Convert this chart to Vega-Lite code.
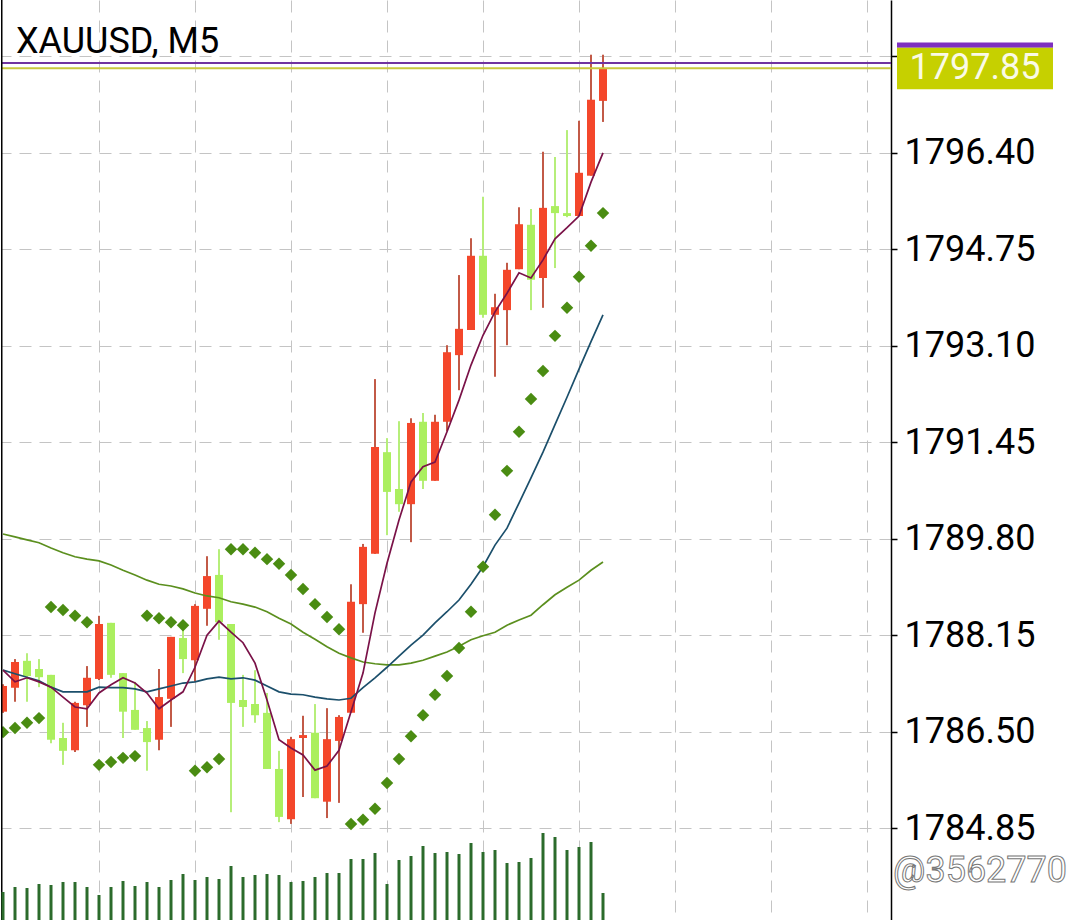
{
  "$schema": "https://vega.github.io/schema/vega-lite/v6.json",
  "width": 890,
  "height": 920,
  "padding": 0,
  "background": "#ffffff",
  "config": {"view": {"stroke": null}, "font": "Roboto"},
  "datasets": {
    "bars": [
      {"i": 0, "o": 1786.84, "h": 1787.31, "l": 1786.82, "c": 1787.28, "m1": 1787.55, "m2": 1787.55, "m3": 1789.88, "sar": 1786.49, "vol": 280},
      {"i": 1, "o": 1787.25, "h": 1787.74, "l": 1787.01, "c": 1787.69, "m1": 1787.35, "m2": 1787.49, "m3": 1789.83, "sar": 1786.56, "vol": 330},
      {"i": 2, "o": 1787.71, "h": 1787.84, "l": 1787.01, "c": 1787.45, "m1": 1787.42, "m2": 1787.43, "m3": 1789.78, "sar": 1786.65, "vol": 320},
      {"i": 3, "o": 1787.57, "h": 1787.74, "l": 1787.26, "c": 1787.43, "m1": 1787.35, "m2": 1787.37, "m3": 1789.73, "sar": 1786.73, "vol": 360},
      {"i": 4, "o": 1787.47, "h": 1787.47, "l": 1786.30, "c": 1786.36, "m1": 1787.26, "m2": 1787.26, "m3": 1789.64, "sar": 1788.63, "vol": 350},
      {"i": 5, "o": 1786.39, "h": 1786.65, "l": 1785.93, "c": 1786.17, "m1": 1787.09, "m2": 1787.18, "m3": 1789.56, "sar": 1788.58, "vol": 380},
      {"i": 6, "o": 1786.18, "h": 1787.01, "l": 1786.15, "c": 1786.99, "m1": 1786.92, "m2": 1787.18, "m3": 1789.49, "sar": 1788.48, "vol": 380},
      {"i": 7, "o": 1786.95, "h": 1787.62, "l": 1786.58, "c": 1787.42, "m1": 1786.89, "m2": 1787.18, "m3": 1789.45, "sar": 1788.37, "vol": 330},
      {"i": 8, "o": 1787.40, "h": 1788.48, "l": 1787.38, "c": 1788.34, "m1": 1787.16, "m2": 1787.26, "m3": 1789.42, "sar": 1785.93, "vol": 250},
      {"i": 9, "o": 1788.36, "h": 1788.36, "l": 1787.42, "c": 1787.47, "m1": 1787.30, "m2": 1787.25, "m3": 1789.35, "sar": 1785.98, "vol": 330},
      {"i": 10, "o": 1787.50, "h": 1787.50, "l": 1786.39, "c": 1786.84, "m1": 1787.42, "m2": 1787.25, "m3": 1789.26, "sar": 1786.05, "vol": 390},
      {"i": 11, "o": 1786.87, "h": 1787.35, "l": 1786.53, "c": 1786.53, "m1": 1787.33, "m2": 1787.23, "m3": 1789.18, "sar": 1786.08, "vol": 340},
      {"i": 12, "o": 1786.56, "h": 1786.68, "l": 1785.83, "c": 1786.32, "m1": 1787.16, "m2": 1787.18, "m3": 1789.09, "sar": 1788.48, "vol": 380},
      {"i": 13, "o": 1786.36, "h": 1787.57, "l": 1786.18, "c": 1787.09, "m1": 1786.89, "m2": 1787.23, "m3": 1789.02, "sar": 1788.44, "vol": 330},
      {"i": 14, "o": 1787.06, "h": 1788.12, "l": 1786.58, "c": 1788.12, "m1": 1787.04, "m2": 1787.28, "m3": 1788.99, "sar": 1788.37, "vol": 400},
      {"i": 15, "o": 1788.10, "h": 1788.24, "l": 1787.50, "c": 1787.74, "m1": 1787.18, "m2": 1787.33, "m3": 1788.94, "sar": 1788.32, "vol": 460},
      {"i": 16, "o": 1787.72, "h": 1788.68, "l": 1787.35, "c": 1788.65, "m1": 1787.60, "m2": 1787.35, "m3": 1788.87, "sar": 1785.83, "vol": 400},
      {"i": 17, "o": 1788.60, "h": 1789.50, "l": 1788.31, "c": 1789.16, "m1": 1788.15, "m2": 1787.40, "m3": 1788.82, "sar": 1785.89, "vol": 430},
      {"i": 18, "o": 1789.18, "h": 1789.62, "l": 1788.07, "c": 1788.37, "m1": 1788.39, "m2": 1787.43, "m3": 1788.79, "sar": 1786.03, "vol": 410},
      {"i": 19, "o": 1788.34, "h": 1788.34, "l": 1785.12, "c": 1786.99, "m1": 1788.20, "m2": 1787.40, "m3": 1788.72, "sar": 1789.62, "vol": 540},
      {"i": 20, "o": 1787.04, "h": 1787.47, "l": 1786.58, "c": 1786.92, "m1": 1788.02, "m2": 1787.42, "m3": 1788.68, "sar": 1789.62, "vol": 430},
      {"i": 21, "o": 1786.97, "h": 1787.55, "l": 1786.65, "c": 1786.78, "m1": 1787.67, "m2": 1787.38, "m3": 1788.63, "sar": 1789.56, "vol": 450},
      {"i": 22, "o": 1786.82, "h": 1787.16, "l": 1785.86, "c": 1785.86, "m1": 1787.04, "m2": 1787.28, "m3": 1788.55, "sar": 1789.45, "vol": 460},
      {"i": 23, "o": 1785.86, "h": 1786.17, "l": 1784.95, "c": 1785.04, "m1": 1786.36, "m2": 1787.18, "m3": 1788.44, "sar": 1789.37, "vol": 450},
      {"i": 24, "o": 1785.00, "h": 1786.41, "l": 1784.92, "c": 1786.37, "m1": 1786.22, "m2": 1787.14, "m3": 1788.34, "sar": 1789.18, "vol": 380},
      {"i": 25, "o": 1786.39, "h": 1786.77, "l": 1785.38, "c": 1786.44, "m1": 1786.10, "m2": 1787.13, "m3": 1788.20, "sar": 1788.94, "vol": 390},
      {"i": 26, "o": 1786.48, "h": 1786.97, "l": 1785.36, "c": 1785.36, "m1": 1785.84, "m2": 1787.09, "m3": 1788.08, "sar": 1788.68, "vol": 430},
      {"i": 27, "o": 1785.30, "h": 1786.90, "l": 1785.02, "c": 1786.37, "m1": 1785.91, "m2": 1787.06, "m3": 1787.95, "sar": 1788.46, "vol": 470},
      {"i": 28, "o": 1786.34, "h": 1786.78, "l": 1785.28, "c": 1786.75, "m1": 1786.18, "m2": 1787.04, "m3": 1787.84, "sar": 1788.25, "vol": 470},
      {"i": 29, "o": 1786.82, "h": 1789.02, "l": 1786.82, "c": 1788.72, "m1": 1786.84, "m2": 1787.07, "m3": 1787.76, "sar": 1784.92, "vol": 610},
      {"i": 30, "o": 1788.68, "h": 1789.71, "l": 1788.19, "c": 1789.66, "m1": 1787.50, "m2": 1787.25, "m3": 1787.69, "sar": 1784.99, "vol": 610},
      {"i": 31, "o": 1789.54, "h": 1792.53, "l": 1789.54, "c": 1791.37, "m1": 1788.53, "m2": 1787.42, "m3": 1787.66, "sar": 1785.18, "vol": 670},
      {"i": 32, "o": 1791.28, "h": 1791.52, "l": 1789.86, "c": 1790.60, "m1": 1789.38, "m2": 1787.60, "m3": 1787.64, "sar": 1785.62, "vol": 360},
      {"i": 33, "o": 1790.65, "h": 1791.81, "l": 1790.26, "c": 1790.39, "m1": 1790.12, "m2": 1787.79, "m3": 1787.64, "sar": 1786.03, "vol": 600},
      {"i": 34, "o": 1790.39, "h": 1791.86, "l": 1789.74, "c": 1791.78, "m1": 1790.77, "m2": 1787.98, "m3": 1787.67, "sar": 1786.42, "vol": 640},
      {"i": 35, "o": 1791.80, "h": 1791.95, "l": 1790.65, "c": 1790.79, "m1": 1791.03, "m2": 1788.15, "m3": 1787.72, "sar": 1786.78, "vol": 740},
      {"i": 36, "o": 1790.79, "h": 1791.92, "l": 1790.79, "c": 1791.80, "m1": 1791.11, "m2": 1788.36, "m3": 1787.79, "sar": 1787.13, "vol": 670},
      {"i": 37, "o": 1791.80, "h": 1793.11, "l": 1791.64, "c": 1792.99, "m1": 1791.63, "m2": 1788.55, "m3": 1787.86, "sar": 1787.45, "vol": 680},
      {"i": 38, "o": 1792.94, "h": 1794.31, "l": 1792.34, "c": 1793.39, "m1": 1792.17, "m2": 1788.75, "m3": 1787.96, "sar": 1787.93, "vol": 660},
      {"i": 39, "o": 1793.37, "h": 1794.94, "l": 1793.37, "c": 1794.64, "m1": 1792.77, "m2": 1789.02, "m3": 1788.07, "sar": 1788.55, "vol": 770},
      {"i": 40, "o": 1794.64, "h": 1795.65, "l": 1793.58, "c": 1793.63, "m1": 1793.28, "m2": 1789.32, "m3": 1788.14, "sar": 1789.32, "vol": 680},
      {"i": 41, "o": 1793.63, "h": 1793.99, "l": 1792.57, "c": 1793.76, "m1": 1793.68, "m2": 1789.69, "m3": 1788.20, "sar": 1790.21, "vol": 700},
      {"i": 42, "o": 1793.71, "h": 1794.52, "l": 1793.11, "c": 1794.40, "m1": 1794.00, "m2": 1789.98, "m3": 1788.32, "sar": 1790.96, "vol": 570},
      {"i": 43, "o": 1794.41, "h": 1795.47, "l": 1794.41, "c": 1795.18, "m1": 1794.35, "m2": 1790.41, "m3": 1788.41, "sar": 1791.63, "vol": 580},
      {"i": 44, "o": 1795.17, "h": 1795.44, "l": 1793.71, "c": 1794.23, "m1": 1794.26, "m2": 1790.84, "m3": 1788.49, "sar": 1792.19, "vol": 620},
      {"i": 45, "o": 1794.26, "h": 1796.42, "l": 1793.75, "c": 1795.46, "m1": 1794.57, "m2": 1791.28, "m3": 1788.67, "sar": 1792.67, "vol": 870},
      {"i": 46, "o": 1795.49, "h": 1796.33, "l": 1794.43, "c": 1795.37, "m1": 1794.93, "m2": 1791.75, "m3": 1788.84, "sar": 1793.27, "vol": 830},
      {"i": 47, "o": 1795.37, "h": 1796.79, "l": 1795.30, "c": 1795.32, "m1": 1795.12, "m2": 1792.22, "m3": 1788.97, "sar": 1793.75, "vol": 700},
      {"i": 48, "o": 1795.32, "h": 1796.95, "l": 1795.32, "c": 1796.06, "m1": 1795.32, "m2": 1792.70, "m3": 1789.09, "sar": 1794.28, "vol": 730},
      {"i": 49, "o": 1796.01, "h": 1798.08, "l": 1796.01, "c": 1797.31, "m1": 1795.90, "m2": 1793.17, "m3": 1789.26, "sar": 1794.81, "vol": 780},
      {"i": 50, "o": 1797.29, "h": 1798.08, "l": 1796.93, "c": 1797.85, "m1": 1796.40, "m2": 1793.63, "m3": 1789.40, "sar": 1795.37, "vol": 270}
    ],
    "labels": [
      {"x": 1.08, "p": 1798.11, "t": "XAUUSD, M5"}
    ],
    "last": [
      {"p": 1797.85, "ask": 1797.94, "xa": -0.1667, "xb": 74, "bx": 74.5, "bx2": 87.5, "by": 1798.2, "by2": 1797.49, "sy": 1798.29, "tx": 81, "t": "1797.85"}
    ],
    "mark": [
      {"x": 88.67, "p": 1783.93, "t": "@3562770"}
    ]
  },
  "layer": [
    {
      "layer": [
        {
          "data": {"name": "bars"},
          "mark": {"type": "rule", "strokeWidth": 2, "clip": true},
          "encoding": {
            "x": {
              "field": "i",
              "type": "quantitative",
              "scale": {"domain": [-0.1667, 74], "nice": false, "zero": false, "padding": 0},
              "axis": {
                "values": [8, 16, 24, 32, 40, 48, 56, 64, 72],
                "grid": true,
                "gridColor": "#c4c4c4",
                "gridDash": [12, 8],
                "gridWidth": 1,
                "labels": false,
                "ticks": false,
                "domain": false,
                "title": null
              }
            },
            "y": {
              "field": "l",
              "type": "quantitative",
              "scale": {"domain": [1783.276, 1799.016], "nice": false, "zero": false, "padding": 0},
              "axis": {
                "orient": "right",
                "values": [1784.85, 1786.5, 1788.15, 1789.8, 1791.45, 1793.1, 1794.75, 1796.4, 1798.05],
                "labelExpr": "datum.value > 1798 ? '' : format(datum.value, '.2f')",
                "grid": true,
                "gridColor": "#c4c4c4",
                "gridDash": [12, 8],
                "gridWidth": 1,
                "domainColor": "#000000",
                "domainWidth": 1.5,
                "tickColor": "#000000",
                "tickSize": 6,
                "tickWidth": 1.5,
                "labelFont": "Roboto",
                "labelFontSize": 36,
                "labelColor": "#000000",
                "labelPadding": 7,
                "labelOverlap": false,
                "labelBound": false,
                "labelFlush": false,
                "title": null
              }
            },
            "y2": {"field": "h"},
            "color": {"condition": {"test": "datum.c >= datum.o", "value": "#c25a47"}, "value": "#b6ee7a"}
          }
        },
        {
          "data": {"name": "bars"},
          "mark": {"type": "bar", "size": 8, "clip": true},
          "encoding": {
            "x": {"field": "i", "type": "quantitative"},
            "y": {"field": "o", "type": "quantitative"},
            "y2": {"field": "c"},
            "color": {"condition": {"test": "datum.c >= datum.o", "value": "#f4472b"}, "value": "#abef5f"}
          }
        },
        {
          "data": {"name": "bars"},
          "mark": {"type": "line", "color": "#5b8f1e", "strokeWidth": 1.7, "clip": true},
          "encoding": {"x": {"field": "i", "type": "quantitative"}, "y": {"field": "m3", "type": "quantitative"}}
        },
        {
          "data": {"name": "bars"},
          "mark": {"type": "line", "color": "#1b4f6b", "strokeWidth": 1.7, "clip": true},
          "encoding": {"x": {"field": "i", "type": "quantitative"}, "y": {"field": "m2", "type": "quantitative"}}
        },
        {
          "data": {"name": "bars"},
          "mark": {"type": "line", "color": "#7a1248", "strokeWidth": 1.7, "clip": true},
          "encoding": {"x": {"field": "i", "type": "quantitative"}, "y": {"field": "m1", "type": "quantitative"}}
        },
        {
          "data": {"name": "bars"},
          "mark": {"type": "point", "shape": "diamond", "filled": true, "size": 155, "opacity": 1, "color": "#4a8c12", "clip": true},
          "encoding": {"x": {"field": "i", "type": "quantitative"}, "y": {"field": "sar", "type": "quantitative"}}
        },
        {
          "data": {"name": "last"},
          "mark": {"type": "rule", "color": "#c9c93e", "strokeWidth": 2},
          "encoding": {
            "x": {"field": "xa", "type": "quantitative"},
            "x2": {"field": "xb"},
            "y": {"field": "p", "type": "quantitative"}
          }
        },
        {
          "data": {"name": "last"},
          "mark": {"type": "rule", "color": "#7034a0", "strokeWidth": 2},
          "encoding": {
            "x": {"field": "xa", "type": "quantitative"},
            "x2": {"field": "xb"},
            "y": {"field": "ask", "type": "quantitative"}
          }
        },
        {
          "data": {"name": "last"},
          "mark": {"type": "rule", "color": "#000000", "strokeWidth": 3, "clip": true},
          "encoding": {
            "x": {"field": "xa", "type": "quantitative"}
          }
        },
        {
          "data": {"name": "last"},
          "mark": {"type": "rect", "color": "#7e2fc0"},
          "encoding": {
            "x": {"field": "bx", "type": "quantitative"},
            "x2": {"field": "bx2"},
            "y": {"field": "sy", "type": "quantitative"},
            "y2": {"field": "by"}
          }
        },
        {
          "data": {"name": "last"},
          "mark": {"type": "rect", "color": "#c6d000"},
          "encoding": {
            "x": {"field": "bx", "type": "quantitative"},
            "x2": {"field": "bx2"},
            "y": {"field": "by", "type": "quantitative"},
            "y2": {"field": "by2"}
          }
        },
        {
          "data": {"name": "last"},
          "mark": {"type": "text", "font": "Roboto", "fontSize": 36, "color": "#fafae6", "align": "center", "baseline": "middle"},
          "encoding": {
            "x": {"field": "tx", "type": "quantitative"},
            "y": {"field": "p", "type": "quantitative"},
            "text": {"field": "t"}
          }
        },
        {
          "data": {"name": "labels"},
          "mark": {"type": "text", "font": "Roboto", "fontSize": 36, "color": "#000000", "align": "left", "baseline": "alphabetic"},
          "encoding": {
            "x": {"field": "x", "type": "quantitative"},
            "y": {"field": "p", "type": "quantitative"},
            "text": {"field": "t"}
          }
        },
        {
          "data": {"name": "mark"},
          "mark": {"type": "text", "font": "Roboto", "fontSize": 36, "color": "#ffffff", "stroke": "#777777", "strokeWidth": 1, "align": "right", "baseline": "alphabetic"},
          "encoding": {
            "x": {"field": "x", "type": "quantitative"},
            "y": {"field": "p", "type": "quantitative"},
            "text": {"field": "t"}
          }
        }
      ]
    },
    {
      "data": {"name": "bars"},
      "mark": {"type": "rule", "color": "#2b6b2b", "strokeWidth": 3},
      "encoding": {
        "x": {"field": "i", "type": "quantitative"},
        "y": {"field": "vol", "type": "quantitative", "scale": {"domain": [0, 9200], "nice": false, "padding": 0}, "axis": null},
        "y2": {"datum": 0}
      }
    }
  ],
  "resolve": {"scale": {"y": "independent"}}
}
